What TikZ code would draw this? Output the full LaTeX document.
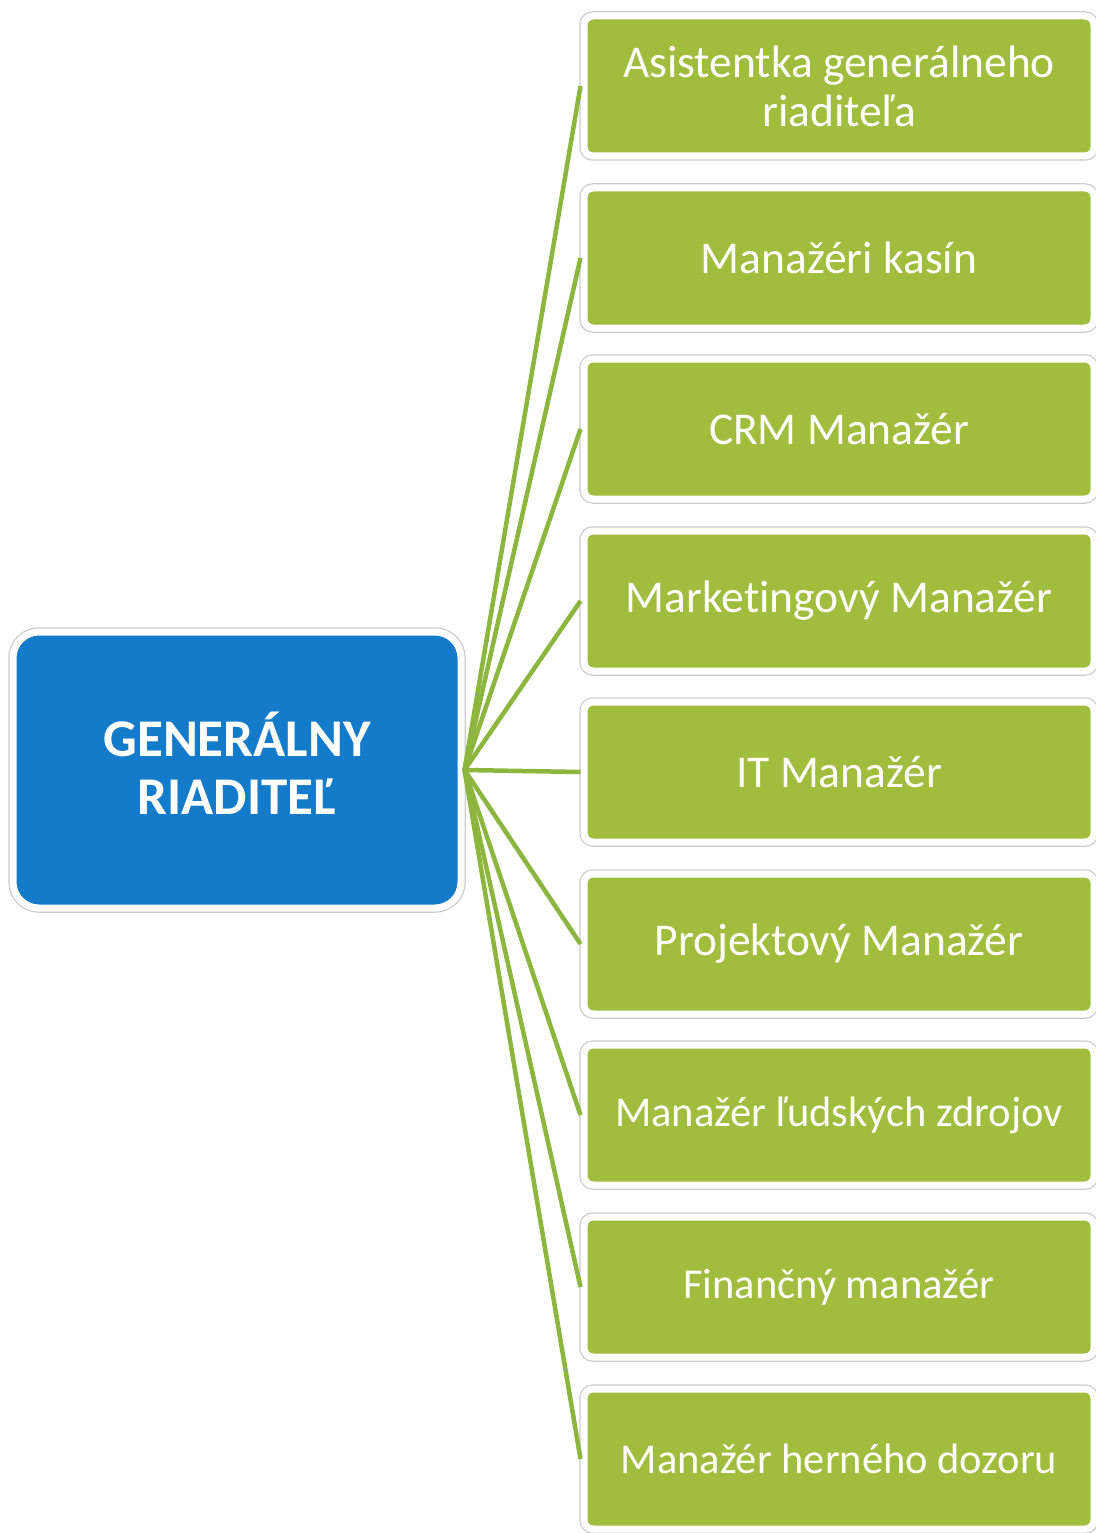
\documentclass[tikz,border=0pt]{standalone}
\usepackage{fontspec}
\setmainfont{Carlito}[Ligatures=CommonOff]
\definecolor{boxgreen}{HTML}{A0BD3E}
\definecolor{linegreen}{HTML}{8DB63E}
\definecolor{bossblue}{HTML}{137BC9}
\begin{document}
\begin{tikzpicture}[x=1pt,y=-1pt,
  framed/.style={preaction={draw=black!20,line width=9.5pt},draw=white,line width=7pt},
  greenbox/.style={framed,fill=boxgreen,rounded corners=9pt,minimum width=510pt,minimum height=140pt,
    text=white,align=center,font=\fontsize{45.5}{49}\selectfont,inner sep=0pt},
  smalltext/.style={font=\fontsize{42.5}{49}\selectfont},
  bossbox/.style={framed,fill=bossblue,rounded corners=26pt,minimum width=448pt,minimum height=276pt,
    text=white,align=center,inner sep=0pt},
  conn/.style={draw=linegreen,line width=4.5pt}]
\useasboundingbox (0,0) rectangle (1095,1533);
\fill[white] (0,0) rectangle (1095,1533);
\node[bossbox] (boss) at (237,770) {\raisebox{4pt}[0pt][0pt]{\parbox{440pt}{\centering\bfseries\fontsize{53}{58}\selectfont GENERÁLNY\\RIADITEĽ}}};
\node[greenbox] (b1) at (839,86) {Asistentka generálneho\\riaditeľa};
\node[greenbox] (b2) at (839,258) {Manažéri kasín};
\node[greenbox] (b3) at (839,429) {CRM Manažér};
\node[greenbox] (b4) at (839,601) {Marketingový Manažér};
\node[greenbox] (b5) at (839,772) {IT Manažér};
\node[greenbox] (b6) at (839,944) {Projektový Manažér};
\node[greenbox,smalltext] (b7) at (839,1115) {Manažér ľudských zdrojov};
\node[greenbox,smalltext] (b8) at (839,1287) {Finančný manažér};
\node[greenbox,smalltext] (b9) at (839,1459) {Manažér herného dozoru};
\foreach \i in {1,...,9}{
  \draw[conn] (boss.east) -- (b\i.west);
}
\end{tikzpicture}
\end{document}
